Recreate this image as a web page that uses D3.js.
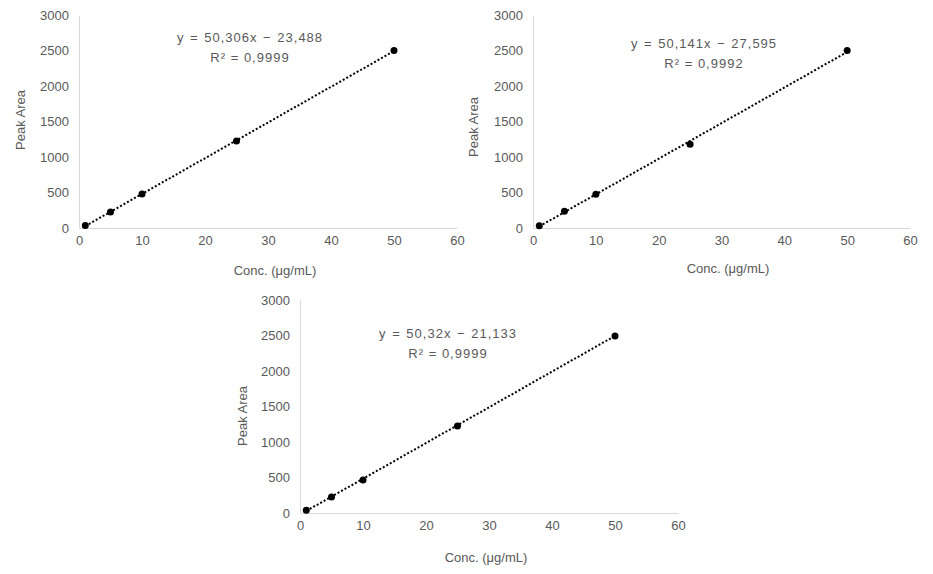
<!DOCTYPE html>
<html>
<head>
<script src="https://cdn.jsdelivr.net/npm/d3@7"></script>
<style>
	body { margin: 0; background: #fff; }
	svg { display: block; }
	text { font-family: "Liberation Sans", Arial, sans-serif; fill: #595959; }
</style>
</head>
<body>
<div id="container"></div>
<script>
	const width = 933, height = 574;

	// data
	const conc = [1, 5, 10, 25, 50];
	const areaA = [35, 225, 478, 1225, 2500];
	const areaB = [32, 236, 476, 1180, 2500];
	const areaC = [37, 225, 465, 1225, 2493];
	const slopes = [50.306, 50.141, 50.32];
	const intercepts = [-23.488, -27.595, -21.133];
	const eqLabels = ["y = 50,306x \u2212 23,488", "y = 50,141x \u2212 27,595", "y = 50,32x \u2212 21,133"];
	const r2Labels = ["R\u00b2 = 0,9999", "R\u00b2 = 0,9992", "R\u00b2 = 0,9999"];
	const xTicks = [0, 10, 20, 30, 40, 50, 60];
	const yTicks = [0, 500, 1000, 1500, 2000, 2500, 3000];

	// panel layout
	const frames = [
		{x0: 79, x1: 457, y0: 228, y1: 15, eq: [250, 37], ytitle: [20, 120], xtitle: [275, 270]},
		{x0: 533, x1: 910, y0: 228, y1: 15, eq: [704, 43], ytitle: [473, 127], xtitle: [728, 268]},
		{x0: 300, x1: 678, y0: 513, y1: 300, eq: [448, 333], ytitle: [242, 416], xtitle: [486, 557]}
	];
	const series = [areaA, areaB, areaC];

	var svg = d3.select("#container").append("svg").attr("width", width).attr("height", height);

	frames.forEach(function(f, i) {
		var x = d3.scaleLinear().domain([0, 60]).range([f.x0, f.x1]);
		var y = d3.scaleLinear().domain([0, 3000]).range([f.y0, f.y1]);
		var g = svg.append("g");

		var xa = g.append("g").attr("transform", "translate(0," + f.y0 + ")")
			.call(d3.axisBottom(x).tickValues(xTicks).tickSize(0).tickPadding(8).tickFormat(d3.format("d")));
		var ya = g.append("g").attr("transform", "translate(" + f.x0 + ",0)")
			.call(d3.axisLeft(y).tickValues(yTicks).tickSize(0).tickPadding(10).tickFormat(d3.format("d")));
		[xa, ya].forEach(function(a) {
			a.select(".domain").attr("stroke", "#d9d9d9").attr("stroke-width", 1);
			a.selectAll("text").style("font-family", "Liberation Sans, Arial, sans-serif")
				.style("font-size", "13px").attr("fill", "#595959");
		});

		// trendline
		var fit = function(c) { return slopes[i] * c + intercepts[i]; };
		g.append("line")
			.attr("x1", x(conc[0])).attr("y1", y(fit(conc[0])))
			.attr("x2", x(conc[conc.length - 1])).attr("y2", y(fit(conc[conc.length - 1])))
			.attr("stroke", "#000").attr("stroke-width", 2).attr("stroke-dasharray", "2,2");

		g.selectAll("circle").data(conc).enter().append("circle")
			.attr("cx", function(d) { return x(d); })
			.attr("cy", function(d, j) { return y(series[i][j]); })
			.attr("r", 3.5).attr("fill", "#000");

		g.append("text").attr("x", f.eq[0]).attr("y", f.eq[1]).attr("text-anchor", "middle")
			.attr("dy", "0.35em").style("font-size", "13px").style("letter-spacing", "1px")
			.style("word-spacing", "1px").text(eqLabels[i]);
		g.append("text").attr("x", f.eq[0]).attr("y", f.eq[1] + 20).attr("text-anchor", "middle")
			.attr("dy", "0.35em").style("font-size", "13px").style("letter-spacing", "1px")
			.text(r2Labels[i]);

		g.append("text").attr("transform", "translate(" + f.ytitle[0] + "," + f.ytitle[1] + ") rotate(-90)")
			.attr("text-anchor", "middle").attr("dy", "0.35em").style("font-size", "13px").text("Peak Area");
		g.append("text").attr("x", f.xtitle[0]).attr("y", f.xtitle[1]).attr("text-anchor", "middle")
			.attr("dy", "0.35em").style("font-size", "13px").text("Conc. (\u03bcg/mL)");
	});
</script>
</body>
</html>
